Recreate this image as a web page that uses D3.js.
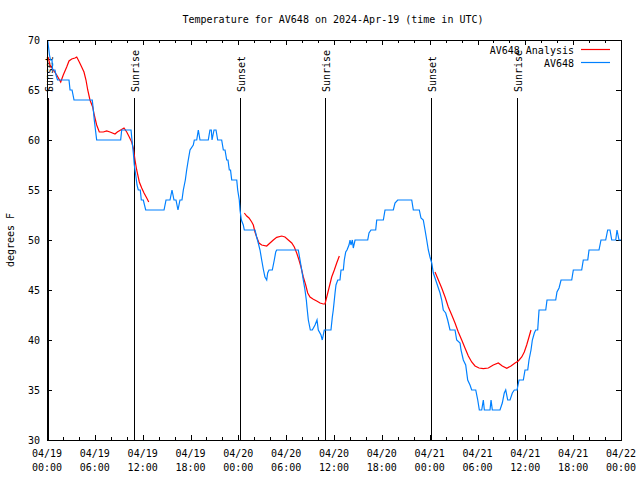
<!DOCTYPE html>
<html><head><meta charset="utf-8">
<script src="https://cdn.jsdelivr.net/npm/d3@7"></script>
<style>body{margin:0;background:#fff}</style>
</head><body>
<svg id="c" width="640" height="480"></svg>
<script>
const chartTitle = "Temperature for AV648 on 2024-Apr-19 (time in UTC)";
const yAxisLabel = "degrees F";
const startTime = Date.UTC(2024, 3, 19, 0, 0);
const endTime = Date.UTC(2024, 3, 22, 0, 0);
const yTicks = [30, 35, 40, 45, 50, 55, 60, 65, 70];
const xMajorHours = [0, 6, 12, 18, 24, 30, 36, 42, 48, 54, 60, 66, 72];
const xMinorHours = d3.range(0, 73, 2);
const eventHours = [0.16, 10.96, 24.25, 34.91, 48.21, 58.99];
const eventLabels = ["Sunset", "Sunrise", "Sunset", "Sunrise", "Sunset", "Sunrise"];
const seriesNames = ["AV648 Analysis", "AV648"];
const seriesColors = ["#ff0000", "#0080ff"];

// observed station temperature: [hours since 04/19 00:00 UTC, deg F]
const observed = [
[0.08,70],[0.19,69.3],[0.31,68.5],[0.44,68],[0.63,68],[0.70,67],[1.00,67],[1.13,66.5],[1.32,66],
[2.76,66],[2.89,65],[3.14,65],[3.24,64.6],[3.39,64],[5.68,64],[5.81,63],[5.93,62],[6.08,61],[6.23,60],
[9.24,60],[9.37,61],[10.54,61],[10.66,60],[10.83,58.7],[10.95,57.5],[11.13,56.5],[11.29,55.5],[11.45,55],
[11.70,55],[11.83,54],[12.08,54],[12.38,53],[14.68,53],[14.93,54],[15.43,54],[15.68,55],[15.93,54],
[16.18,54],[16.43,53],[16.68,54],[16.93,54],[17.10,55],[17.35,56],[17.52,57],[17.72,58],[17.94,59],
[18.35,59.5],[18.48,60],[18.78,60],[18.98,61],[19.19,60],[20.23,60],[20.44,61],[20.61,61],[20.70,60],
[20.95,61],[21.20,61],[21.41,60],[21.91,60],[22.12,59],[22.33,59],[22.54,58],[22.70,58],[22.87,57],
[23.02,57],[23.17,56],[23.80,56],[23.92,55],[24.12,54],[24.21,53],[24.38,52],[24.62,51.5],[24.75,51],
[26.09,51],[26.30,50.3],[26.50,49.7],[26.72,49],[26.93,48],[27.13,47.1],[27.34,46.3],[27.56,46],
[27.68,46.7],[27.85,47],[28.26,47],[28.51,48],[28.69,48.8],[28.81,49],[31.52,49],[31.74,48],[31.95,47],
[32.15,46],[32.36,45],[32.53,44],[32.61,43.3],[32.78,42],[33.03,41],[33.28,41],[33.62,41.5],[33.87,42],
[34.03,41],[34.37,40.5],[34.53,40],[34.78,41],[35.62,41],[35.79,42.3],[35.91,43],[36.04,44],[36.13,44.7],
[36.25,45.5],[36.47,46],[36.75,46],[36.88,47],[37.17,47],[37.29,48],[37.47,48.8],[37.63,49],[37.88,49.5],
[38.01,50],[38.13,49.5],[38.30,50],[38.42,49.2],[38.64,50],[40.23,50],[40.39,50.7],[40.64,51],[41.23,51],
[41.36,52],[42.19,52],[42.40,53],[43.44,53],[43.65,53.7],[43.99,54],[45.75,54],[45.95,53],[46.70,53],
[46.91,52.2],[47.20,52],[47.42,51],[47.63,50],[47.83,49],[48.04,48.3],[48.26,47.7],[48.46,46.7],
[48.67,46.2],[48.88,45.7],[49.09,45.2],[49.30,44.7],[49.51,44],[49.71,43],[50.01,42.7],[50.26,42],
[50.55,41],[51.18,41],[51.39,40],[51.81,39.7],[51.93,39],[52.22,38],[52.52,37.5],[52.77,36],[53.06,35.5],
[53.27,35],[53.78,35],[54.03,34],[54.23,33],[54.53,33],[54.73,34],[54.86,33],[55.57,33],[55.70,34],
[55.86,33],[56.82,33],[57.11,33.7],[57.36,34.7],[57.54,35],[57.79,34],[58.08,34],[58.37,34.7],[58.62,35],
[58.96,35],[59.21,36],[59.75,36],[59.96,37],[60.30,37],[60.46,38],[60.71,39],[60.88,40],[61.13,40.7],
[61.30,41],[61.55,41],[61.72,43],[62.56,43],[62.72,44],[63.81,44],[63.97,44.8],[64.23,45.2],[64.48,46],
[65.82,46],[66.02,47],[67.07,47],[67.27,48],[67.83,48],[67.99,49],[69.24,49],[69.49,50],[70.08,50],
[70.33,51],[70.62,51],[70.84,50],[71.34,50],[71.50,51],[71.75,50],[72.0,50]
];

// analysis segments: [hours, deg F]
const analysisNight1 = [
[0.13,68.3],[0.38,67.5],[0.79,67],[1.22,66.5],[1.72,65.8],[2.04,66.5],[2.47,67.3],[2.76,67.9],[3.10,68.1],
[3.51,68.2],[3.73,68.3],[4.05,67.8],[4.35,67.3],[4.64,66.8],[4.89,66],[5.11,65],[5.39,64],[5.73,63.3],
[5.93,62.5],[6.23,61.5],[6.56,60.8],[7.06,60.8],[7.49,60.9],[7.90,60.8],[8.53,60.6],[8.82,60.8],[9.24,61],
[9.66,61.2],[10.00,60.8],[10.32,60.3],[10.62,59.8],[10.83,59.2],[11.04,58],[11.25,57],[11.58,55.8],
[11.88,55.2],[12.17,54.7],[12.51,54.2],[12.76,53.8]
];
const analysisNight2 = [
[24.75,52.7],[25.05,52.4],[25.34,52.2],[25.68,51.8],[25.88,51.5],[26.09,50.8],[26.30,50.3],[26.59,49.7],
[26.93,49.5],[27.56,49.4],[27.97,49.7],[28.39,50],[28.81,50.27],[29.44,50.4],[29.85,50.3],[30.27,50],
[30.70,49.7],[31.02,49.3],[31.32,48.7],[31.61,48],[31.86,47.3],[32.15,46.3],[32.45,45.5],[32.70,44.7],
[32.99,44.3],[33.41,44.07],[33.83,43.9],[34.25,43.7],[34.66,43.6],[34.87,43.6],[35.09,44.3],[35.37,45.2],
[35.71,46.3],[36.04,47],[36.34,47.7],[36.67,48.4]
];
const analysisNight3 = [
[48.67,46.8],[49.09,46],[49.51,45.2],[49.93,44.3],[50.34,43.3],[50.77,42.5],[51.18,41.7],[51.59,40.8],
[52.02,40],[52.43,39.2],[52.85,38.4],[53.27,37.8],[53.69,37.4],[54.19,37.2],[54.73,37.13],[55.36,37.2],
[55.98,37.5],[56.61,37.7],[57.11,37.4],[57.67,37.17],[58.20,37.4],[58.71,37.7],[59.12,37.9],[59.55,38.3],
[59.87,38.8],[60.17,39.5],[60.46,40.3],[60.71,41]
];

const W = 640, H = 480;
const L = 47, R = 621, T = 40, B = 440;
const FONT = "'DejaVu Sans Mono', 'Liberation Mono', monospace";
const svg = d3.select("#c");
svg.append("rect").attr("width", W).attr("height", H).attr("fill", "#fff");

const toDate = h => new Date(startTime + h * 3600e3);
const x = d3.scaleUtc().domain([new Date(startTime), new Date(endTime)]).range([L, R]);
const y = d3.scaleLinear().domain([30, 70]).range([B, T]);

svg.append("defs").append("clipPath").attr("id", "clip")
  .append("rect").attr("x", L).attr("y", T).attr("width", R - L).attr("height", B - T);

// ticks
const tickG = svg.append("g").attr("stroke", "#000").attr("stroke-width", 1).attr("shape-rendering", "crispEdges");
xMinorHours.forEach(h => {
  const major = h % 6 === 0;
  const len = major ? 5 : 3;
  const xx = Math.round(x(toDate(h))) + 0.5;
  tickG.append("line").attr("x1", xx).attr("x2", xx).attr("y1", B).attr("y2", B - len);
  tickG.append("line").attr("x1", xx).attr("x2", xx).attr("y1", T).attr("y2", T + len);
});
yTicks.forEach(v => {
  const yy = Math.round(y(v)) + 0.5;
  tickG.append("line").attr("x1", L).attr("x2", L + 5).attr("y1", yy).attr("y2", yy);
  tickG.append("line").attr("x1", R).attr("x2", R - 5).attr("y1", yy).attr("y2", yy);
});

// tick labels
const fmtD = d3.utcFormat("%m/%d"), fmtT = d3.utcFormat("%H:%M");
const labG = svg.append("g").attr("font-family", FONT).attr("font-size", 10).attr("fill", "#000");
xMajorHours.forEach(h => {
  const d = toDate(h);
  labG.append("text").attr("x", x(d)).attr("y", 457).attr("text-anchor", "middle").text(fmtD(d));
  labG.append("text").attr("x", x(d)).attr("y", 471).attr("text-anchor", "middle").text(fmtT(d));
});
yTicks.forEach(v => {
  labG.append("text").attr("x", 40).attr("y", y(v) + 3.5).attr("text-anchor", "end").text(v);
});

// event lines
eventHours.forEach((h, i) => {
  const xx = Math.round(x(toDate(h))) + 0.5;
  svg.append("line").attr("x1", xx).attr("x2", xx).attr("y1", 98).attr("y2", B)
    .attr("stroke", "#000").attr("shape-rendering", "crispEdges");
  svg.append("text").attr("transform", `translate(${xx + 4.5},92) rotate(-90)`)
    .attr("text-anchor", "start").attr("font-family", FONT).attr("font-size", 10).text(eventLabels[i]);
});

// series
const line = d3.line().x(d => x(toDate(d[0]))).y(d => y(d[1]));
const plotG = svg.append("g").attr("clip-path", "url(#clip)").attr("fill", "none").attr("stroke-width", 1.2);
[analysisNight1, analysisNight2, analysisNight3].forEach(seg => {
  plotG.append("path").datum(seg).attr("d", line).attr("stroke", seriesColors[0]);
});
plotG.append("path").datum(observed).attr("d", line).attr("stroke", seriesColors[1]);

// frame
svg.append("rect").attr("x", L + 0.5).attr("y", T + 0.5).attr("width", R - L).attr("height", B - T)
  .attr("fill", "none").attr("stroke", "#000").attr("shape-rendering", "crispEdges");

// legend
seriesNames.forEach((n, i) => {
  const ly = 49.5 + i * 13;
  svg.append("text").attr("x", 574).attr("y", ly + 4).attr("text-anchor", "end")
    .attr("font-family", FONT).attr("font-size", 10).text(n);
  svg.append("line").attr("x1", 581).attr("x2", 610).attr("y1", ly).attr("y2", ly)
    .attr("stroke", seriesColors[i]).attr("stroke-width", 1.2);
});

// title and axis label
svg.append("text").attr("x", 333).attr("y", 23).attr("text-anchor", "middle")
  .attr("font-family", FONT).attr("font-size", 10).text(chartTitle);
svg.append("text").attr("transform", "translate(14,240) rotate(-90)").attr("text-anchor", "middle")
  .attr("font-family", FONT).attr("font-size", 10).text(yAxisLabel);
</script>
</body></html>
